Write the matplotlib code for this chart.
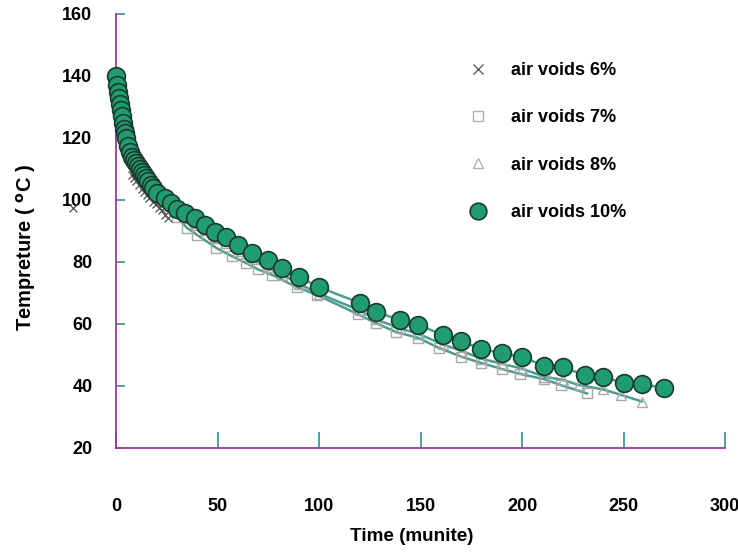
import matplotlib
matplotlib.use("Agg")
import matplotlib.pyplot as plt
from matplotlib.lines import Line2D

# ---- data ----
time_6 = [-21.4, 8, 9, 10, 11.5, 13, 14, 15.5, 16.5, 18, 19.5, 21, 22.5, 24, 25.5]
temp_6 = [97.4, 108, 107, 106, 104.8, 103.6, 102.6, 101.5, 100.6, 99.4, 98.6, 97.5, 96.8, 95.3, 94.2]

time_7 = [30, 35, 40, 49.5, 57, 64, 70, 77, 89, 99, 119, 128, 138, 149, 159, 170, 180, 190, 199, 211, 219, 232]
temp_7 = [94.5, 91, 88.7, 84.5, 81.9, 79.7, 77.6, 75.8, 71.9, 69.4, 63.2, 60.3, 57.4, 55.5, 52.3, 49.5,
          47.4, 45.5, 43.9, 42.2, 40.3, 37.6]

time_8 = [30, 34, 39, 44, 49, 54, 60, 67, 75, 82, 90, 100, 120, 128, 140, 149, 161, 170, 180, 190, 200,
          211, 220, 228, 240, 249, 259]
temp_8 = [96, 94.5, 92.6, 90.2, 88, 86.2, 83.6, 80.9, 78.4, 75.9, 73, 69.8, 64.4, 61.5, 58.6, 56.8, 53.4,
          51.4, 48.8, 47.2, 45.6, 43.0, 42.0, 40.3, 38.9, 37.1, 35.0]

time_10 = [0, 0.5, 1, 1.5, 2, 2.5, 3, 3.5, 4, 4.5, 5, 6, 7, 8, 9, 10, 11, 12, 13, 14, 15, 16, 17, 18,
           20, 24, 27, 30, 34, 39, 44, 49, 54, 60, 67, 75, 82, 90, 100, 120, 128, 140, 149, 161, 170,
           180, 190, 200, 211, 220, 231, 240, 250, 259, 270]
temp_10 = [140, 137, 135, 133, 131, 129, 127, 125, 123, 121.5, 120, 117.5, 115.5, 114, 113, 112, 111,
           110, 109, 108, 107, 106, 105, 104, 102.3, 100.6, 99, 97.1, 95.8, 94.2, 91.9, 89.7, 88.1,
           85.5, 82.9, 80.6, 78.1, 75.2, 71.9, 66.8, 63.9, 61.3, 59.7, 56.5, 54.5, 51.9, 50.6, 49.4,
           46.5, 46.1, 43.5, 42.9, 41.0, 40.6, 39.4]

labels = ["air voids 6%", "air voids 7%", "air voids 8%", "air voids 10%"]
x_ticks = [0, 50, 100, 150, 200, 250, 300]
y_ticks = [20, 40, 60, 80, 100, 120, 140, 160]

# ---- style ----
plt.rcParams["font.family"] = ["Liberation Sans", "DejaVu Sans"]
plt.rcParams["font.weight"] = "bold"
plt.rcParams["mathtext.default"] = "bf"

spine_c = "#9a3a9a"
tick_c = "#2f8f9a"
line_c = "#4a9e8e"
green = "#1f9c70"
edge = "#1b3a2c"

fig = plt.figure(figsize=(7.38, 5.52), dpi=100)
ax = fig.add_axes([116 / 738, 1 - 448 / 552, 609 / 738, 434 / 552])

# lines
ax.plot(time_7, temp_7, color=line_c, lw=1.8, zorder=2)
ax.plot(time_8, temp_8, color=line_c, lw=1.8, zorder=2)
ax.plot(time_10, temp_10, color=line_c, lw=1.8, zorder=2)

# markers
ax.plot(time_7, temp_7, ls="none", marker="s", ms=7, mfc="none", mec="#a8a8a8", mew=1.0, zorder=3)
ax.plot(time_8, temp_8, ls="none", marker="^", ms=7, mfc="none", mec="#a8a8a8", mew=1.0, zorder=3)
ax.plot(time_6, temp_6, ls="none", marker="x", ms=6, mec="#505050", mew=0.9, zorder=3, clip_on=False)
ax.plot(time_10, temp_10, ls="none", marker="o", ms=12.8, mfc=green, mec=edge, mew=1.2, zorder=4,
        clip_on=False)

ax.set_xlim(0, 300)
ax.set_ylim(20, 160)
ax.set_xticks(x_ticks)
ax.set_yticks(y_ticks)

for s in ["top", "right"]:
    ax.spines[s].set_visible(False)
for s in ["left", "bottom"]:
    ax.spines[s].set_color(spine_c)
    ax.spines[s].set_linewidth(1.3)

ax.tick_params(axis="x", direction="in", length=11.5, width=1.2, color=tick_c, pad=36, labelsize=13)
ax.tick_params(axis="y", direction="in", length=6.5, width=1.2, color=tick_c, pad=17, labelsize=13)
for lab in ax.get_xticklabels() + ax.get_yticklabels():
    lab.set_fontweight("bold")

ax.set_xlabel("Time (munite)", fontsize=13.6, fontweight="bold")
ax.xaxis.set_label_coords(0.486, -0.185)
ax.set_ylabel(r"Tempreture ( $^{\mathbf{o}}$C )", fontsize=14.5, fontweight="bold")
ax.yaxis.set_label_coords(-0.128, 0.463)

handles = [
    Line2D([], [], ls="none", marker="x", ms=7, mec="#505050", mew=0.9),
    Line2D([], [], ls="none", marker="s", ms=7, mfc="none", mec="#b0b0b0", mew=1.0),
    Line2D([], [], ls="none", marker="^", ms=7, mfc="none", mec="#b0b0b0", mew=1.0),
    Line2D([], [], ls="none", marker="o", ms=12, mfc=green, mec=edge, mew=1.2),
]
leg = ax.legend(handles, labels, loc="upper left", bbox_to_anchor=(460 / 738, 1 - 62 / 552),
                bbox_transform=fig.transFigure, frameon=False, borderpad=0, borderaxespad=0,
                labelspacing=1.68, handlelength=2.0, handletextpad=0.8,
                prop={"weight": "bold", "size": 13})

fig.savefig("out.png", dpi=100)
